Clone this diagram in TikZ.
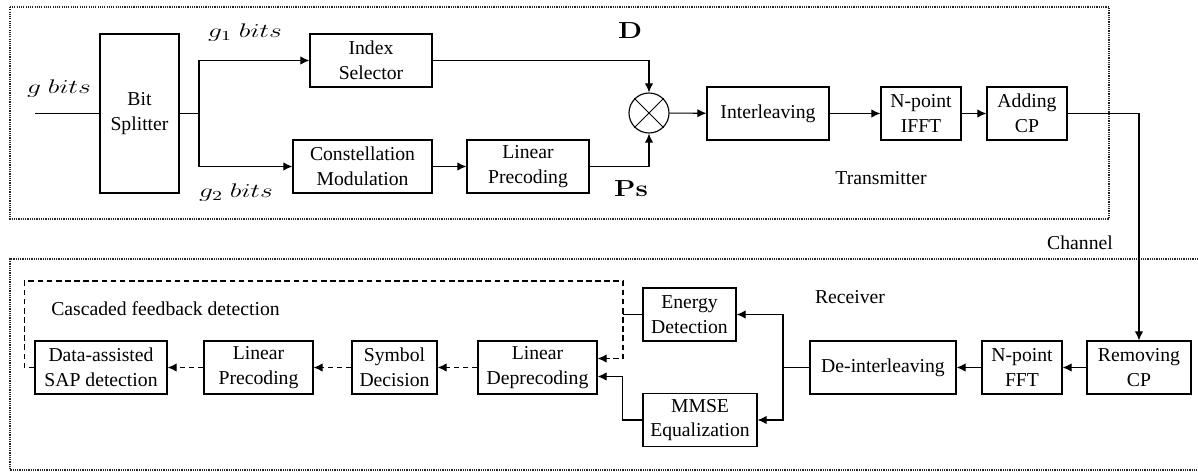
\documentclass[tikz,border=0pt]{standalone}
\usepackage{fix-cm}
\usepackage[no-math]{fontspec}
\setmainfont{Liberation Serif}
\usetikzlibrary{arrows.meta}

\tikzstyle{blk}    = [draw, line width=0.8pt, inner sep=0pt, align=center, minimum height=1.325cm, font=\fontsize{14}{17.5}\selectfont]
\tikzstyle{lbl}    = [inner sep=0pt, font=\fontsize{14}{17.5}\selectfont]
\tikzstyle{mlbl}   = [inner sep=0pt, xscale=1.4, font=\fontsize{14}{16}\selectfont]
\tikzstyle{mbig}   = [inner sep=0pt, xscale=1.2, font=\fontsize{16.5}{18}\selectfont]
\tikzstyle{wire}   = [line width=0.8pt, -{Latex[length=6.5pt,width=6pt]}]
\tikzstyle{fb}     = [wire, dash pattern=on 4pt off 2.5pt]
\tikzstyle{dotbox} = [line width=0.8pt, dash pattern=on 0.8pt off 0.8pt, black!85]

\begin{document}
\begin{tikzpicture}[x=0.025cm, y=-0.025cm]
  \useasboundingbox (0,0) rectangle (1198,474);

  % transmitter
  \draw[dotbox] (10,7) rectangle (1109,219);
  \node[blk, minimum width=1.975cm, minimum height=3.975cm] (split) at (139.5,113.5) {Bit\\Splitter};
  \node[blk, minimum width=3.05cm]  (idx)   at (371,60.5)    {Index\\Selector};
  \node[blk, minimum width=3.475cm] (const) at (362.5,166.5) {Constellation\\Modulation};
  \node[blk, minimum width=3.05cm]  (lpre)  at (528,166.5)   {Linear\\Precoding};
  \node[draw, circle, line width=0.8pt, minimum size=1cm, inner sep=0pt] (mult) at (649,113) {};
  \draw[line width=0.6pt] (mult.45) -- (mult.225) (mult.135) -- (mult.315);
  \node[blk, minimum width=3.05cm]  (inter) at (768,113.5)   {Interleaving};
  \node[blk, minimum width=2cm]     (ifft)  at (921,113.5)   {N-point\\IFFT};
  \node[blk, minimum width=2cm]     (addcp) at (1027,113.5)  {Adding\\CP};

  \node[mlbl] (lg)  at (59,89)   {$g\ bits$};
  \node[mlbl] (lg1) at (245,33)  {$g_1\ bits$};
  \node[mlbl] (lg2) at (236,193) {$g_2\ bits$};
  \node[mbig] (lD)  at (630,31)  {$\mathbf{D}$};
  \node[mbig] (lPs) at (631,189) {$\mathbf{Ps}$};
  \node[lbl]  (ltx) at (881,178) {Transmitter};
  \node[lbl]  (lch) at (1080,243) {Channel};

  \coordinate (in) at (35,113.5);
  \coordinate (sp) at (199,113.5);
  \draw[line width=0.8pt] (in) -- (split.west);
  \draw[line width=0.8pt] (split.east) -- (sp);
  \draw[wire] (sp) |- (idx.west);
  \draw[wire] (sp) |- (const.west);
  \draw[wire] (const) -- (lpre);
  \draw[wire] (idx.east) -| (mult.north);
  \draw[wire] (lpre.east) -| (mult.south);
  \draw[wire] (mult) -- (inter);
  \draw[wire] (inter) -- (ifft);
  \draw[wire] (ifft) -- (addcp);

  % receiver
  \draw[dotbox] (1198,259) -| (10,470) -- (1198,470);
  \node[blk, minimum width=2.6cm]   (rmcp)   at (1139,367.5) {Removing\\CP};
  \node[blk, minimum width=2cm]     (fft)    at (1022,367.5) {N-point\\FFT};
  \node[blk, minimum width=3.65cm]  (deint)  at (883,367.5)  {De-interleaving};
  \node[blk, minimum width=2.325cm] (energy) at (689.5,314.5) {Energy\\Detection};
  \node[blk, minimum width=2.85cm]  (mmse)   at (700,420)    {MMSE\\Equalization};
  \node[blk, minimum width=2.975cm] (dep)    at (537.5,367.5) {Linear\\Deprecoding};
  \node[blk, minimum width=2.125cm] (sym)    at (394.5,367.5) {Symbol\\Decision};
  \node[blk, minimum width=2.725cm] (rlpre)  at (258.5,367.5) {Linear\\Precoding};
  \node[blk, minimum width=3.3cm]   (sap)    at (101,367.5)  {Data-assisted\\SAP detection};

  \node[lbl] (lrx)  at (850,297) {Receiver};
  \node[lbl, anchor=west] (lcas) at (51,309) {Cascaded feedback detection};

  \draw[wire] (addcp.east) -| (rmcp.north);
  \draw[wire] (rmcp) -- (fft);
  \draw[wire] (fft) -- (deint);

  \coordinate (br) at (783,367.5);
  \coordinate (ej) at (623,314.5);
  \draw[line width=0.8pt] (deint.west) -- (br);
  \draw[wire] (br) |- (energy.east);
  \draw[wire] (br) |- (mmse.east);
  \draw[line width=0.8pt] (energy.west) -- (ej);
  \draw[wire] (mmse.west) -- ++(-20,0) |- ([yshift=-6.4pt]dep.east);
  \draw[fb] (sap.west) -- ++(-10,0) |- (623,281) |- ([yshift=6.4pt]dep.east);

  \draw[fb] (dep) -- (sym);
  \draw[fb] (sym) -- (rlpre);
  \draw[fb] (rlpre) -- (sap);
\end{tikzpicture}
\end{document}
